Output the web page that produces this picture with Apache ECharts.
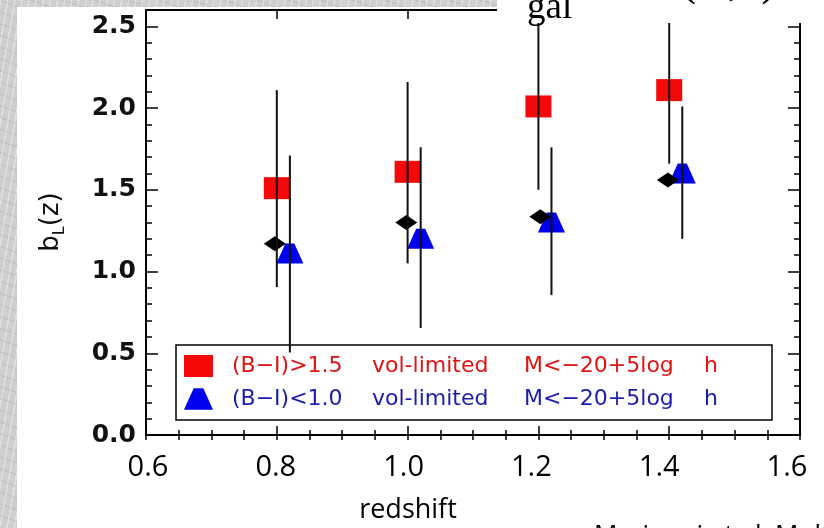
<!DOCTYPE html>
<html><head><meta charset="utf-8">
<script src="https://cdn.jsdelivr.net/npm/echarts@6/dist/echarts.min.js"></script>
<style>
html,body{margin:0;padding:0;}
body{width:824px;height:528px;overflow:hidden;background:#cfcfcf;
 background-image: repeating-linear-gradient(100deg, rgba(255,255,255,0.35) 0px, rgba(255,255,255,0.35) 1px, rgba(0,0,0,0) 2px, rgba(0,0,0,0) 7px), repeating-linear-gradient(20deg, rgba(120,120,120,0.15) 0px, rgba(120,120,120,0.15) 1px, rgba(0,0,0,0) 2px, rgba(0,0,0,0) 11px);}
#chart{width:824px;height:528px;}
</style></head><body><div id="chart"></div>
<script>
// ---- data ----
const redName = '(B−I)>1.5 vol-limited M<−20+5log h';
const blueName = '(B−I)<1.0 vol-limited M<−20+5log h';
const redRedshift = [0.8, 1.0, 1.2, 1.4];
const redBias = [1.51, 1.61, 2.01, 2.11];
const redLow = [0.905, 1.05, 1.50, 1.66];
const redHigh = [2.11, 2.16, 2.55, 2.57];
const blueRedshift = [0.82, 1.02, 1.22, 1.42];
const blueBias = [1.11, 1.20, 1.30, 1.60];
const blueLow = [0.505, 0.655, 0.856, 1.20];
const blueHigh = [1.71, 1.76, 1.76, 2.01];
const blackRedshift = [0.797, 0.998, 1.203, 1.398];
const blackBias = [1.17, 1.30, 1.335, 1.56];
const xTickValues = [0.6, 0.8, 1.0, 1.2, 1.4, 1.6];
const yTickValues = [0.0, 0.5, 1.0, 1.5, 2.0, 2.5];

const chart = echarts.init(document.getElementById('chart'), null, {renderer: 'canvas'});

function errData(xs, lo, hi) { return xs.map((x, i) => [x, lo[i], hi[i]]); }
function pts(xs, ys) { return xs.map((x, i) => [x, ys[i]]); }
function errRender(params, api) {
  const a = api.coord([api.value(0), api.value(1)]);
  const b = api.coord([api.value(0), api.value(2)]);
  return {type: 'line', shape: {x1: a[0], y1: a[1], x2: b[0], y2: b[1]},
    style: {stroke: '#111', lineWidth: 2}};
}
function fmtFrom(list) {
  return v => { const i = list.findIndex(t => Math.abs(t - v) < 1e-6); return i >= 0 ? list[i].toFixed(1) : ''; };
}

const axisLineStyle = {show: true, onZero: false, lineStyle: {color: '#000', width: 2}};
const gridBox = {left: 146, right: 24, top: 10, bottom: 93, show: false};
// the tick-label strip of the original is slightly narrower than the plot axis
const labelGridBox = {left: 148, right: 37, top: 10, bottom: 93, show: false};
const hidden = {axisLine: {show: false}, axisTick: {show: false}, axisLabel: {show: false}, splitLine: {show: false}};

const legendRich = {
  g: {width: 14},
  w1: {width: 140, lineHeight: 22}, w2: {width: 152, lineHeight: 22},
  w3: {width: 180, lineHeight: 22}, w4: {width: 60, lineHeight: 22}
};

const option = {
  animation: false,
  grid: [Object.assign({}, gridBox), Object.assign({}, gridBox), Object.assign({}, labelGridBox)],
  xAxis: [
    {gridIndex: 0, type: 'value', position: 'bottom', min: 0.6, max: 1.6, interval: 0.2,
     axisLine: axisLineStyle, axisTick: {inside: true, length: 9, lineStyle: {color: '#000', width: 1.5}},
     axisLabel: {show: false}, splitLine: {show: false}},
    {gridIndex: 0, type: 'value', position: 'top', min: 0.6, max: 1.6, interval: 0.2,
     axisLine: axisLineStyle, axisTick: {inside: true, length: 9, lineStyle: {color: '#000', width: 1.5}},
     axisLabel: {show: false}, splitLine: {show: false}},
    {gridIndex: 1, type: 'value', position: 'bottom', min: 0.6, max: 1.6, interval: 0.05,
     axisLine: {show: false}, axisTick: {inside: true, length: 5, lineStyle: {color: '#000', width: 1.5}},
     axisLabel: {show: false}, splitLine: {show: false}},
    {gridIndex: 1, type: 'value', position: 'top', min: 0.6, max: 1.6, interval: 0.05,
     axisLine: {show: false}, axisTick: {inside: true, length: 5, lineStyle: {color: '#000', width: 1.5}},
     axisLabel: {show: false}, splitLine: {show: false}},
    {gridIndex: 2, type: 'value', position: 'bottom', min: 0.6, max: 1.6, interval: 0.2,
     axisLine: {show: false}, axisTick: {show: false}, splitLine: {show: false},
     axisLabel: {show: true, interval: 0, margin: 18, fontFamily: 'Open Sans', fontSize: 29, color: '#000',
       formatter: fmtFrom(xTickValues)}}
  ],
  yAxis: [
    {gridIndex: 0, type: 'value', position: 'left', min: 0, max: 2.6, interval: 0.5,
     axisLine: axisLineStyle, axisTick: {inside: true, length: 12, lineStyle: {color: '#000', width: 1.5}},
     axisLabel: {margin: 10, fontFamily: 'DejaVu Sans', fontWeight: 'bold', fontSize: 25, color: '#111',
       showMaxLabel: false, formatter: fmtFrom(yTickValues)},
     splitLine: {show: false}},
    {gridIndex: 0, type: 'value', position: 'right', min: 0, max: 2.6, interval: 0.5,
     axisLine: axisLineStyle, axisTick: {inside: true, length: 12, lineStyle: {color: '#000', width: 1.5}},
     axisLabel: {show: false}, splitLine: {show: false}},
    {gridIndex: 1, type: 'value', position: 'left', min: 0, max: 2.6, interval: 0.1,
     axisLine: {show: false}, axisTick: {inside: true, length: 6, lineStyle: {color: '#000', width: 1.5}},
     axisLabel: {show: false}, splitLine: {show: false}},
    {gridIndex: 1, type: 'value', position: 'right', min: 0, max: 2.6, interval: 0.1,
     axisLine: {show: false}, axisTick: {inside: true, length: 6, lineStyle: {color: '#000', width: 1.5}},
     axisLabel: {show: false}, splitLine: {show: false}},
    Object.assign({gridIndex: 2, type: 'value', position: 'left', min: 0, max: 2.6}, hidden)
  ],
  legend: {
    left: 176, top: 345, orient: 'vertical', padding: [10, 8, 10, 8], itemGap: 11,
    itemWidth: 29, itemHeight: 22, borderColor: '#000', borderWidth: 1.5, selectedMode: false,
    textStyle: {fontFamily: 'DejaVu Sans', fontSize: 22, rich: legendRich},
    formatter: name => { const p = name.split(' '); return '{g| }{w1|' + p[0] + '}{w2|' + p[1] + '}{w3|' + p[2] + '}{w4|' + p[3] + '}'; },
    data: [
      {name: redName, icon: 'rect', itemStyle: {color: '#f40808'}, textStyle: {color: '#dc1414'}},
      {name: blueName, icon: 'path://M9,0L18,0L27,20L0,20Z', itemStyle: {color: '#0000f0'}, textStyle: {color: '#1c1cae'}}
    ]
  },
  series: [
    {name: redName, type: 'scatter', xAxisIndex: 0, yAxisIndex: 0, data: pts(redRedshift, redBias),
     symbol: 'rect', symbolSize: [26, 22], itemStyle: {color: '#f40808', opacity: 1}, z: 2},
    {name: blueName, type: 'scatter', xAxisIndex: 0, yAxisIndex: 0, data: pts(blueRedshift, blueBias),
     symbol: 'path://M9,0L18,0L27,20L0,20Z', symbolSize: [27, 20], itemStyle: {color: '#0000f0', opacity: 1}, z: 2},
    {name: 'all', type: 'scatter', xAxisIndex: 0, yAxisIndex: 0, data: pts(blackRedshift, blackBias),
     symbol: 'diamond', symbolSize: [22, 15], itemStyle: {color: '#000', opacity: 1}, z: 3},
    {name: 'redErr', type: 'custom', xAxisIndex: 0, yAxisIndex: 0, data: errData(redRedshift, redLow, redHigh),
     renderItem: errRender, encode: {x: 0, y: [1, 2]}, z: 5},
    {name: 'blueErr', type: 'custom', xAxisIndex: 0, yAxisIndex: 0, data: errData(blueRedshift, blueLow, blueHigh),
     renderItem: errRender, encode: {x: 0, y: [1, 2]}, z: 5}
  ],
  graphic: [
    {type: 'rect', shape: {x: 17, y: 7, width: 807, height: 521}, style: {fill: '#fff'}, z: -100, silent: true},
    {type: 'rect', shape: {x: 497, y: 0, width: 327, height: 23}, style: {fill: '#fff'}, z: 100, silent: true},
    {type: 'text', x: 527, y: 8, z: 101, silent: true,
     style: {text: 'gal', font: '37px "Liberation Serif"', fill: '#000', textAlign: 'left', align: 'left', textVerticalAlign: 'middle', verticalAlign: 'middle'}},
    {type: 'text', x: 680, y: -19, z: 101, silent: true,
     style: {text: '(R,z)', font: '48px "Liberation Serif"', fill: '#000', textAlign: 'left', align: 'left', textVerticalAlign: 'middle', verticalAlign: 'middle'}},
    {type: 'text', x: 51, y: 222, rotation: Math.PI / 2, silent: true,
     style: {text: '{b|b}{s|L}{b|(z)}', fill: '#111', textAlign: 'center', align: 'center', textVerticalAlign: 'middle', verticalAlign: 'middle',
       rich: {b: {fontFamily: 'DejaVu Sans', fontSize: 26, lineHeight: 34, verticalAlign: 'middle'},
              s: {fontFamily: 'DejaVu Sans', fontSize: 16, lineHeight: 16, verticalAlign: 'bottom'}}}},
    {type: 'text', x: 408, y: 510, silent: true,
     style: {text: 'redshift', font: '27px "Open Sans"', fill: '#000', textAlign: 'center', align: 'center', textVerticalAlign: 'middle', verticalAlign: 'middle'}},
    {type: 'text', x: 594, y: 536, silent: true,
     style: {text: 'Marinoni et al. Multi', font: '26px "Open Sans"', fill: '#000', textAlign: 'left', align: 'left', textVerticalAlign: 'middle', verticalAlign: 'middle'}}
  ]
};
chart.setOption(option);
</script></body></html>
